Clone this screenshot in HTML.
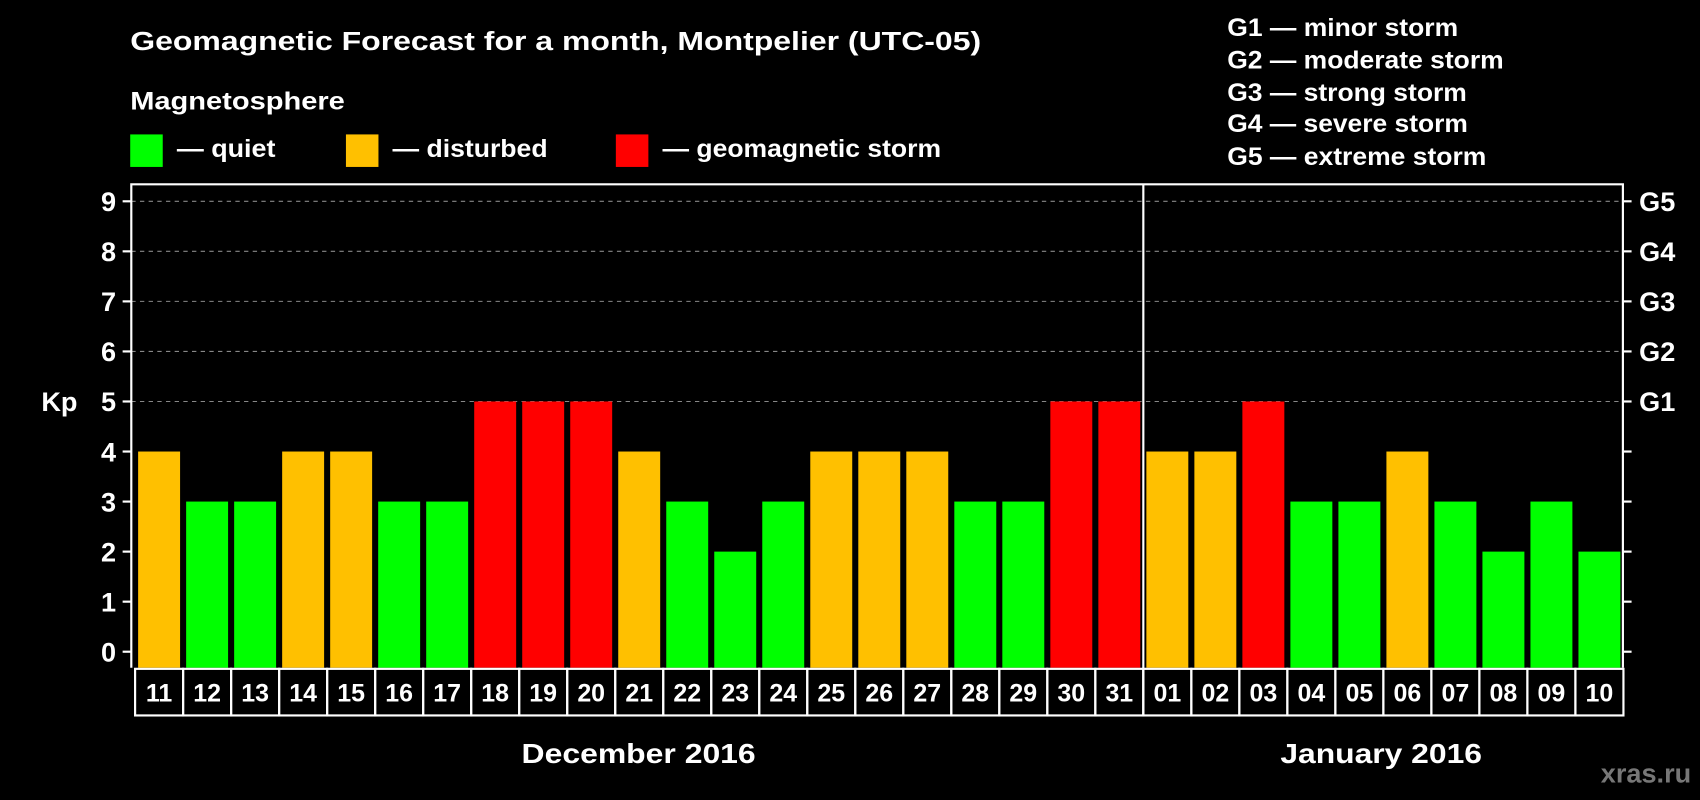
<!DOCTYPE html>
<html><head><meta charset="utf-8"><style>
html,body{margin:0;padding:0;background:#000;}
svg{display:block;}
text{font-family:"Liberation Sans",Arial,sans-serif;font-weight:bold;fill:#fff;}
</style></head><body>
<svg id="chart" width="1700" height="800" viewBox="0 0 1568 738" xmlns="http://www.w3.org/2000/svg">
<rect x="0" y="0" width="1568" height="738" fill="#000"/>
<text x="120" y="46" font-size="24" textLength="785" lengthAdjust="spacingAndGlyphs">Geomagnetic Forecast for a month, Montpelier (UTC-05)</text>
<text x="120" y="101" font-size="23" textLength="198" lengthAdjust="spacingAndGlyphs">Magnetosphere</text>
<g>
<rect x="120" y="124" width="30" height="30" fill="#00ff00"/>
<text x="163" y="145" font-size="23" textLength="91" lengthAdjust="spacingAndGlyphs">— quiet</text></g>
<g>
<rect x="319" y="124" width="30" height="30" fill="#ffc000"/>
<text x="362" y="145" font-size="23" textLength="143" lengthAdjust="spacingAndGlyphs">— disturbed</text></g>
<g>
<rect x="568" y="124" width="30" height="30" fill="#ff0000"/>
<text x="611" y="145" font-size="23" textLength="257" lengthAdjust="spacingAndGlyphs">— geomagnetic storm</text></g>
<g font-size="23">
<text x="1132" y="33" textLength="213" lengthAdjust="spacingAndGlyphs">G1 — minor storm</text>
<text x="1132" y="63" textLength="255" lengthAdjust="spacingAndGlyphs">G2 — moderate storm</text>
<text x="1132" y="93" textLength="221" lengthAdjust="spacingAndGlyphs">G3 — strong storm</text>
<text x="1132" y="122" textLength="222" lengthAdjust="spacingAndGlyphs">G4 — severe storm</text>
<text x="1132" y="152" textLength="239" lengthAdjust="spacingAndGlyphs">G5 — extreme storm</text>
</g>
<text x="38" y="379" font-size="25">Kp</text>
<g id="grid"></g><g id="bars"></g><g id="axes"></g><g id="labels"></g>
<text x="481" y="704" font-size="26" textLength="216" lengthAdjust="spacingAndGlyphs">December 2016</text>
<text x="1181" y="704" font-size="26" textLength="186" lengthAdjust="spacingAndGlyphs">January 2016</text>
<text x="1560" y="722" font-size="25" text-anchor="end" style="fill:#777">xras.ru</text>
</svg>
<script>
const days = ["11","12","13","14","15","16","17","18","19","20","21","22","23","24","25","26","27","28","29","30","31","01","02","03","04","05","06","07","08","09","10"];
const kpValues = [4,3,3,4,4,3,3,5,5,5,4,3,2,3,4,4,4,3,3,5,5,4,4,5,3,3,4,3,2,3,2];
const yTicks = [0,1,2,3,4,5,6,7,8,9];
const gLabels = ["G1","G2","G3","G4","G5"];
const gLevels = [5,6,7,8,9];

const NS="http://www.w3.org/2000/svg";
const pLeft=121,pRight=1497,pTop=170,pBottom=616,slot0=124.5,slotW=(1497.5-124.5)/31,barW=38.7;
const y0=601.2,unit=(601.2-185.7)/9;
const yScale=v=>y0-v*unit;
const xScale=i=>slot0+i*slotW;
function mk(tag,attrs,parent){const e=document.createElementNS(NS,tag);for(const k in attrs)e.setAttribute(k,attrs[k]);document.getElementById(parent).appendChild(e);return e;}
const color=v=>v>=5?"#ff0000":(v>=4?"#ffc000":"#00ff00");

yTicks.forEach(t=>{
  if(t>=5){const g=mk("line",{x1:pLeft,x2:pRight,y1:yScale(t),y2:yScale(t),stroke:"#888","stroke-width":1,"stroke-dasharray":"4,4"},"grid");
  
  }
  const tk=mk("line",{x1:pLeft-8,x2:pLeft,y1:yScale(t),y2:yScale(t),stroke:"#fff","stroke-width":2},"axes");
  
  
  const tr=mk("line",{x1:pRight,x2:pRight+8,y1:yScale(t),y2:yScale(t),stroke:"#fff","stroke-width":2},"axes");
  
  
  const lb=mk("text",{x:107,y:yScale(t)+9,"font-size":25,"text-anchor":"end"},"axes");
  lb.textContent=t;
  
  
});
gLabels.forEach((g,i)=>{
  const t=mk("text",{x:1512,y:yScale(gLevels[i])+9,"font-size":25},"axes");
  t.textContent=g;
  
  
});
kpValues.forEach((v,i)=>{
  const x=xScale(i)+(slotW-barW)/2;
  const b=mk("rect",{x:x,y:yScale(v),width:barW,height:pBottom-yScale(v),fill:color(v)},"bars");
  
  
});
const fr=mk("path",{d:`M${pLeft},${pBottom} V${pTop} H${pRight} V${pBottom}`,fill:"none",stroke:"#fff","stroke-width":2},"axes");


const dv=mk("line",{x1:xScale(21),x2:xScale(21),y1:pTop,y2:660,stroke:"#fff","stroke-width":2},"axes");


days.forEach((d,i)=>{
  const r=mk("rect",{x:xScale(i),y:617,width:slotW,height:43,fill:"none",stroke:"#fff","stroke-width":2},"labels");
  
  
  const t=mk("text",{x:xScale(i)+slotW/2,y:647,"font-size":23,"text-anchor":"middle"},"labels");
  t.textContent=d;
  
  
});
</script>
</body></html>
